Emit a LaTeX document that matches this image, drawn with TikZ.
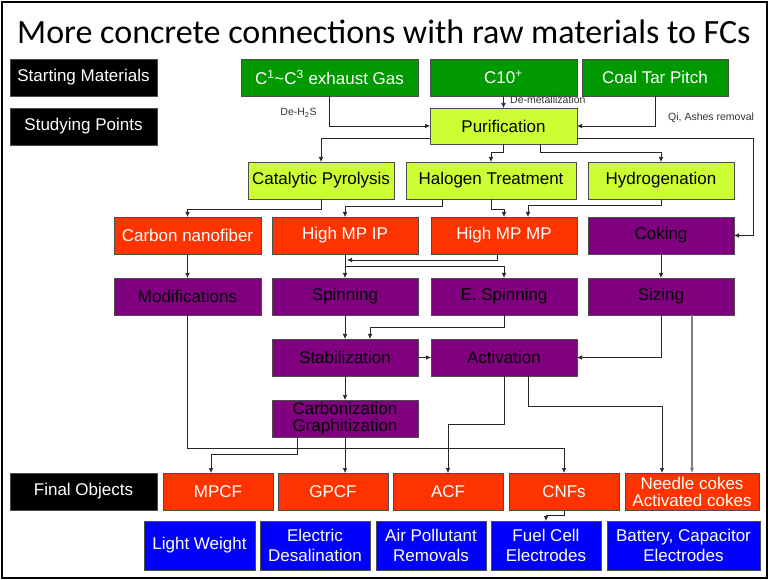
\documentclass[tikz,border=0pt]{standalone}
\usepackage{fontspec}
\setmainfont{Liberation Sans}
\newfontfamily\titlefont{Carlito}
\usetikzlibrary{arrows.meta}

\definecolor{cGreen}{RGB}{0,153,0}
\definecolor{cLime}{RGB}{204,255,51}
\definecolor{cRed}{RGB}{255,51,0}
\definecolor{cPurple}{RGB}{128,0,128}
\definecolor{cBlue}{RGB}{0,0,255}

\begin{document}
\begin{tikzpicture}[x=1pt,y=-1pt,
  box/.style={draw=black!70, line width=0.6pt, inner sep=0pt, outer sep=0pt,
    align=center, font=\fontsize{17}{17}\selectfont},
  sz/.style 2 args={minimum width=#1pt, minimum height=#2pt},
  label/.style={box, fill=black, text=white},
  src/.style={box, fill=cGreen, text=white},
  proc/.style={box, fill=cLime, text=black},
  prod/.style={box, fill=cRed, text=white},
  stage/.style={box, fill=cPurple, text=black},
  use/.style={box, fill=cBlue, text=white, font=\fontsize{17}{20}\selectfont},
  note/.style={inner sep=0pt, text=black!80, font=\fontsize{10.5}{12}\selectfont},
  arr/.style={-{Latex[length=5pt,width=4.5pt]}, line width=0.7pt, draw=black!85},
  grayarr/.style={arr, draw=black!50, line width=1.2pt}
]
\useasboundingbox (0,0) rectangle (769,580);
\draw[line width=1.6pt] (2,2) rectangle (767,578);

% heading
\node[anchor=base west, inner sep=0pt, font=\titlefont\fontsize{34}{36}\selectfont]
  (title) at (17,44) {More concrete connections with raw materials to FCs};

% row captions
\node[label, sz={147}{37}] (sm) at (83.5,77.5) {Starting Materials};
\node[label, sz={147}{37}] (sp) at (83.5,126.5) {Studying Points};
\node[label, sz={147}{37}] (fo) at (83.5,491.5) {Final Objects};

% raw materials
\node[src, sz={177}{37}] (gas) at (329.5,77.5) {C\textsuperscript{1}\textasciitilde C\textsuperscript{3} exhaust Gas};
\node[src, sz={147}{37}] (c10) at (503.5,77.5) {C10\textsuperscript{+}};
\node[src, sz={146}{37}] (ctp) at (655,77.5) {Coal Tar Pitch};

% treatments
\node[proc, sz={147}{36}] (pur) at (503.5,126) {Purification};
\node[proc, sz={146}{37}] (cat) at (321,180.5) {Catalytic Pyrolysis};
\node[proc, sz={170}{37}] (hal) at (491,180.5) {Halogen Treatment};
\node[proc, sz={146}{37}] (hyd) at (661,180.5) {Hydrogenation};

% intermediates
\node[prod, sz={147}{37}] (cnf) at (187.5,235.5) {Carbon nanofiber};
\node[prod, sz={146}{37}] (ipp) at (345,235.5) {High MP IP};
\node[prod, sz={146}{37}] (mpp) at (504,235.5) {High MP MP};
\node[stage, sz={146}{37}] (cok) at (661,235.5) {Coking};

% processing stages
\node[stage, sz={147}{37}] (mod) at (187.5,296.5) {Modifications};
\node[stage, sz={146}{37}] (spi) at (345,296.5) {Spinning};
\node[stage, sz={146}{37}] (esp) at (504,296.5) {E. Spinning};
\node[stage, sz={146}{37}] (siz) at (661,296.5) {Sizing};
\node[stage, sz={146}{37}] (sta) at (345,357.5) {Stabilization};
\node[stage, sz={146}{37}] (act) at (504,357.5) {Activation};
\node[stage, sz={146}{37}] (car) at (345,418.5) {Carbonization\\Graphitization};

% final products
\node[prod, sz={110}{37}] (mpcf) at (218,491.5) {MPCF};
\node[prod, sz={110}{37}] (gpcf) at (333,491.5) {GPCF};
\node[prod, sz={110}{37}] (acf) at (448,491.5) {ACF};
\node[prod, sz={110}{37}] (cnfs) at (564,491.5) {CNFs};
\node[prod, sz={134}{37}] (nee) at (692,491.5) {Needle cokes\\Activated cokes};

% applications
\node[use, sz={111}{49}] (lw) at (199.5,545.5) {Light Weight};
\node[use, sz={110}{49}] (ed) at (315,545.5) {Electric\\Desalination};
\node[use, sz={110}{49}] (ap) at (431,545.5) {Air Pollutant\\Removals};
\node[use, sz={110}{49}] (fc) at (546,545.5) {Fuel Cell\\Electrodes};
\node[use, sz={153}{49}] (bat) at (683.5,545.5) {Battery, Capacitor\\Electrodes};

% step notes
\node[note] (nh2s) at (298.5,113) {De-H\textsubscript{2}S};
\node[note, anchor=west] (nmet) at (510,100) {De-metallization};
\node[note, anchor=west] (nqi) at (668,118) {Qi, Ashes removal};

% raw materials into purification
\draw[arr] (gas.south) |- (pur.west);
\draw[arr] (c10.south) -- (pur.north);
\draw[arr] (ctp.south) |- (pur.east);

% purification outputs
\draw[arr] ([yshift=6pt]pur.south west) -| (cat.north);
\draw[arr] (pur.south) -- ++(0,8) -| (hal.north);
\draw[arr] ([xshift=36.5pt]pur.south) -- ++(0,8) -| (hyd.north);
\draw[arr] ([yshift=6pt]pur.south east) -- ++(176,0) |- (cok.east);

% treatments to intermediates
\draw[arr] (cat.south) -- ++(0,10) -| (cnf.north);
\draw[arr] ([xshift=-49pt]hal.south) -- ++(0,7) -| (ipp.north);
\draw[arr] (hal.south) -- ++(0,10) -| (mpp.north);
\draw[arr] (hyd.south) -- ++(0,6) -| ([xshift=24pt]mpp.north);

% intermediates to processing
\draw[arr] (cnf.south) -- (mod.north);
\draw[arr] ([xshift=-7pt]mpp.south) -- ++(0,6) -- ++(-150,0);
\draw[arr] (ipp.south) -- (spi.north);
\draw[arr] ([yshift=-12pt]ipp.south) -| (esp.north);
\draw[arr] (cok.south) -- (siz.north);

% processing chain
\draw[arr] (spi.south) -- (sta.north);
\draw[arr] (esp.south) -- ++(0,12) -| ([xshift=25pt]sta.north);
\draw[arr] (sta.east) -- (act.west);
\draw[arr] (siz.south) |- (act.east);
\draw[arr] (sta.south) -- (car.north);
\draw[grayarr] ([xshift=31pt]siz.south) -- (nee.north);

% into final products
\draw[arr] (mod.south) -- ++(0,133) -| (cnfs.north);
\draw[arr] ([xshift=-48pt]car.south) -- ++(0,17) -| ([xshift=-7pt]mpcf.north);
\draw[arr] (car.south) -- (car.south |- gpcf.north);
\draw[arr] (act.south) -- ++(0,48) -| (acf.north);
\draw[arr] ([xshift=24pt]act.south) -- ++(0,30) -| ([xshift=-30pt]nee.north);

% products to applications
\draw[arr] (cnfs.south) -- ++(0,5) -- ++(-18,0) -- (fc.north);
\end{tikzpicture}
\end{document}
